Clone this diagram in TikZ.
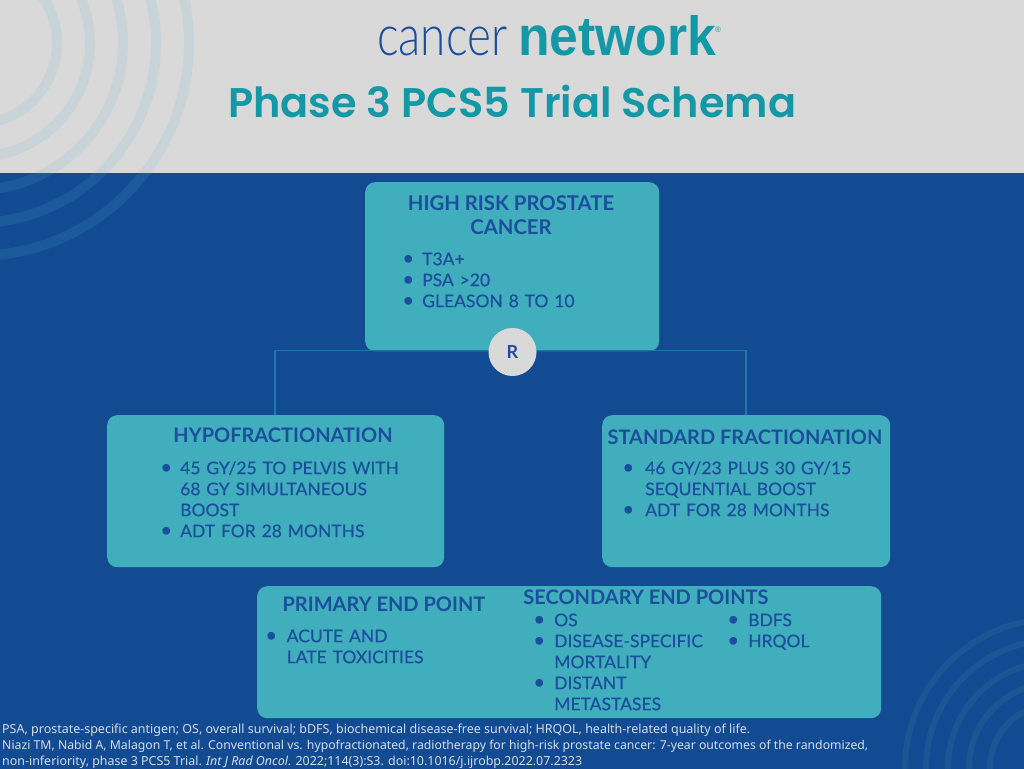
\documentclass[tikz,border=0pt]{standalone}
\usepackage{fontspec}
\setmainfont{Lato}
\newfontfamily\bodyfont{Lato}[FakeBold=0.35]
\newfontfamily\titlefont{Poppins SemiBold}
\newfontfamily\footfont{Noto Sans}
\newfontfamily\logofont{Liberation Sans}
\newfontfamily\logolight{Lato Light}
\definecolor{bgblue}{HTML}{134B93}
\definecolor{bggray}{HTML}{D9D9D9}
\definecolor{boxteal}{HTML}{40AEBC}
\definecolor{inkblue}{HTML}{1B4E9C}
\definecolor{titleteal}{HTML}{1598A6}
\definecolor{ringtint}{RGB}{88,186,209}
\definecolor{ringblue}{HTML}{1C5593}
\definecolor{linkteal}{HTML}{1C78A6}
\definecolor{foot}{HTML}{D5DCE6}
\newlength{\bulind}
\newcommand{\li}[1]{\par\noindent\makebox[\bulind][l]{\raisebox{0.4pt}[0pt][0pt]{\kern1.2pt\scalebox{1.15}{\textbullet}}}#1}
\newcommand{\lc}[1]{\par\noindent\hspace*{\bulind}#1}
\tikzset{
  x=1pt,y=-1pt,
  box/.style={fill=boxteal,rounded corners=10pt,minimum width=#1,inner sep=0pt,anchor=north west},
  head/.style={font=\fontsize{20}{24}\selectfont\bfseries,text=inkblue,inner sep=0pt,align=center},
  items/.style={font=\bodyfont\fontsize{17.5}{21}\selectfont,text=inkblue,inner sep=0pt,anchor=north west,text width=#1},
  footline/.style={font=\footfont\fontsize{12.3}{14}\selectfont,text=foot,inner sep=0pt,anchor=base west},
}
\begin{document}
\begin{tikzpicture}
\useasboundingbox (0,0) rectangle (1024,768);
\fill[bggray] (-2,-2) rectangle (1026,172.5);
\fill[bgblue] (-2,172.5) rectangle (1026,772);
\foreach \r in {213,180,147,114,81} \draw[ringtint,opacity=.13,line width=10pt] (-24,43) circle[radius=\r];
\foreach \r in {149,128,106,85,64} \draw[ringblue,line width=6pt] (1054,768) circle[radius=\r];
% logo and title
\node[inner sep=0pt,anchor=base west,text=inkblue] (logoa) at (377,55.5) {\resizebox{130pt}{28.5pt}{\logolight cancer}};
\node[inner sep=0pt,anchor=base west,text=titleteal] (logob) at (518,55.5) {\resizebox{198pt}{40pt}{\logofont\bfseries network}};
\node[inner sep=0pt,text=titleteal,font=\logofont\fontsize{8}{8}\selectfont] (logoc) at (718,30) {®};
\node[inner sep=0pt,anchor=base west,text=titleteal] (title) at (228,117) {\resizebox{568pt}{!}{\titlefont\fontsize{45}{50}\selectfont Phase 3 PCS5 Trial Schema}};
% boxes
\node[box=294pt,minimum height=169pt] (top) at (365,182) {};
\node[box=337pt,minimum height=152pt] (hypo) at (107,415) {};
\node[box=288pt,minimum height=152pt] (std) at (602,415) {};
\node[box=624pt,minimum height=132pt] (ends) at (257,586) {};
% connector
\coordinate (cl) at (275,415);
\coordinate (cr) at (746,415);
\coordinate (ct) at (512,350.7);
\draw[linkteal,line width=1.3pt] (cl) |- (ct) -| (cr);
\node[circle,fill=bggray,minimum size=48pt,inner sep=0pt,text=inkblue,font=\fontsize{18}{18}\selectfont\bfseries] (R) at (512.5,352) {R};
% top box
\node[head,font=\fontsize{20.3}{24}\selectfont\bfseries] (h1) at (511,215) {HIGH RISK PROSTATE\\[-.3pt]CANCER};
\node[items=250pt] (l1) at (401,244) {\setlength{\bulind}{21pt}\li{T3A+}\li{PSA >20}\li{GLEASON 8 TO 10}};
% left
\node[head] (h2) at (283,435) {HYPOFRACTIONATION};
\node[items=260pt] (l2) at (159,453) {\setlength{\bulind}{21pt}\li{45 GY/25 TO PELVIS WITH}\lc{68 GY SIMULTANEOUS}\lc{BOOST}\li{ADT FOR 28 MONTHS}};
% right
\node[head] (h3) at (745,437) {STANDARD FRACTIONATION};
\node[items=260pt] (l3) at (621,453) {\setlength{\bulind}{24pt}\li{46 GY/23 PLUS 30 GY/15}\lc{SEQUENTIAL BOOST}\li{ADT FOR 28 MONTHS}};
% bottom
\node[head] (h4) at (384,604) {PRIMARY END POINT};
\node[items=200pt] (l4) at (264,621) {\setlength{\bulind}{22.5pt}\li{ACUTE AND}\lc{LATE TOXICITIES}};
\node[head] (h5) at (646,597) {SECONDARY END POINTS};
\node[items=180pt] (l5) at (532,605) {\setlength{\bulind}{22pt}\li{OS}\li{DISEASE-SPECIFIC}\lc{MORTALITY}\li{DISTANT}\lc{METASTASES}};
\node[items=120pt] (l6) at (726,605) {\setlength{\bulind}{22pt}\li{BDFS}\li{HRQOL}};
% footer
\node[footline] (f1) at (2,733) {\resizebox{748pt}{!}{PSA, prostate-specific antigen; OS, overall survival; bDFS, biochemical disease-free survival; HRQOL, health-related quality of life.}};
\node[footline] (f2) at (2,749) {\resizebox{866pt}{!}{Niazi TM, Nabid A, Malagon T, et al. Conventional vs. hypofractionated, radiotherapy for high-risk prostate cancer: 7-year outcomes of the randomized,}};
\node[footline] (f3) at (2,765) {\resizebox{580pt}{!}{non-inferiority, phase 3 PCS5 Trial. \textit{Int J Rad Oncol}. 2022;114(3):S3. doi:10.1016/j.ijrobp.2022.07.2323}};
\end{tikzpicture}
\end{document}
